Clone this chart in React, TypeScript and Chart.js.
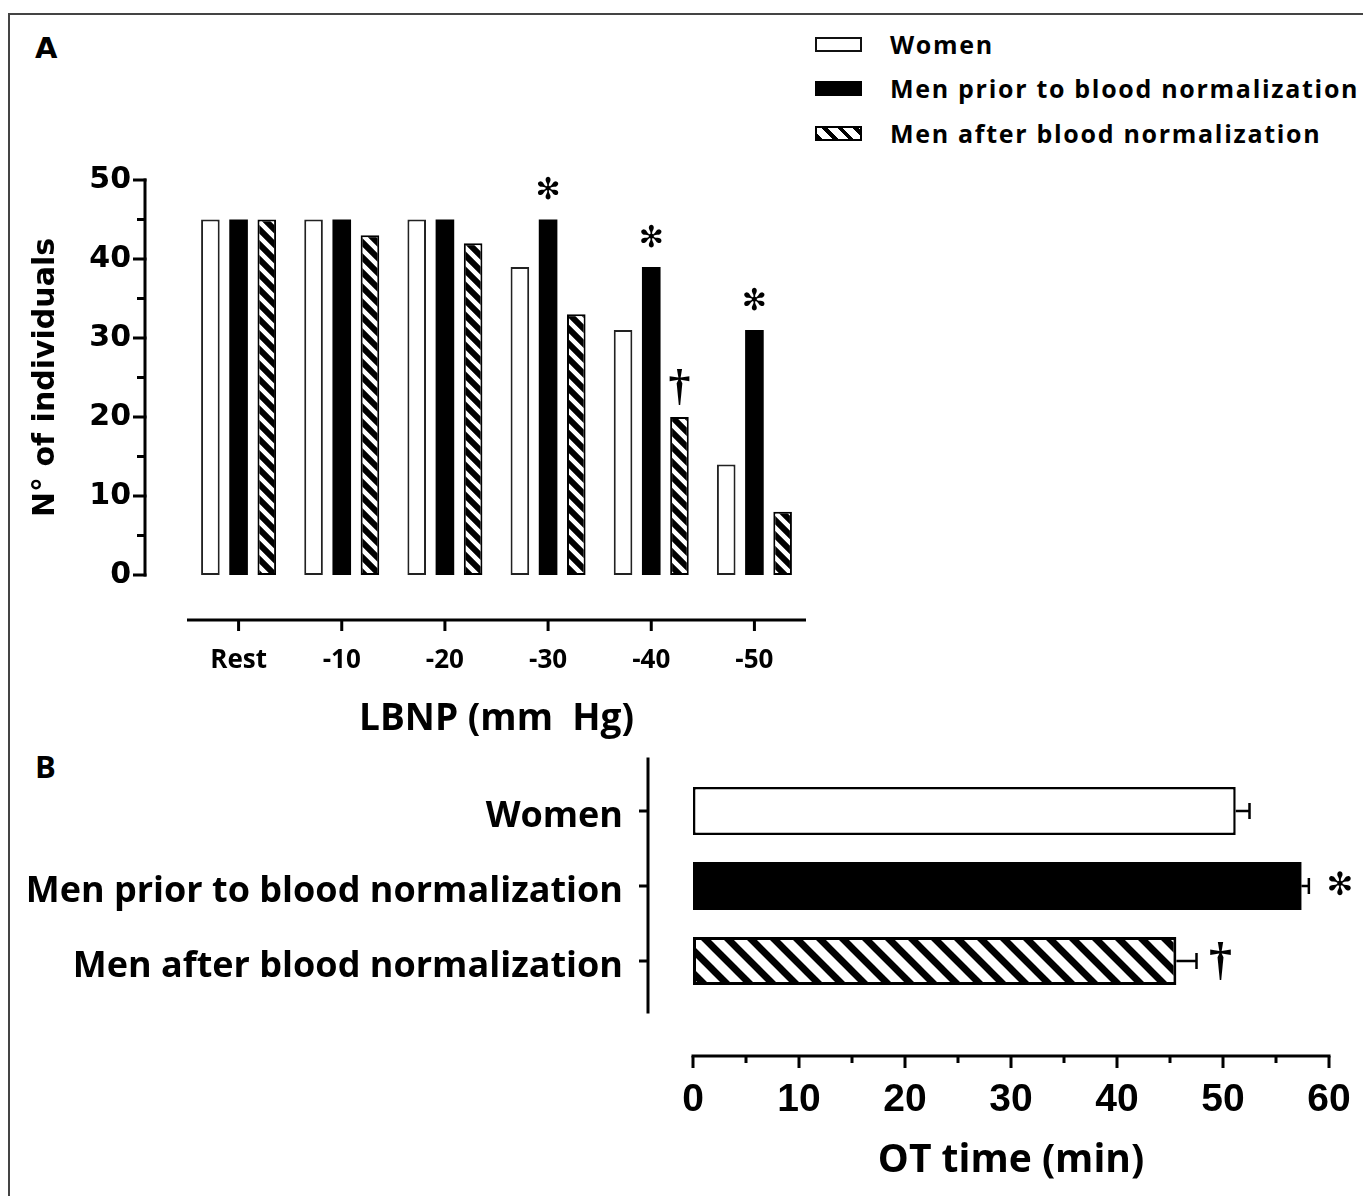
import React, { useEffect, useRef } from "react";
import { Chart, registerables } from "chart.js";

Chart.register(...registerables);

// ---------- Panel A data ----------
const lbnpCategories = ["Rest", "-10", "-20", "-30", "-40", "-50"];
const womenCounts = [45, 45, 45, 39, 31, 14];
const menPriorCounts = [45, 45, 45, 45, 39, 31];
const menAfterCounts = [45, 43, 42, 33, 20, 8];
const menPriorMarks = ["", "", "", "*", "*", "*"];
const menAfterMarks = ["", "", "", "", "†", ""];
const countTicks = [0, 10, 20, 30, 40, 50];
const countMinorTicks = [5, 15, 25, 35, 45];

// ---------- Panel B data ----------
const groupLabels = [
  "Women",
  "Men prior to blood normalization",
  "Men after blood normalization",
];
const otTimeMeans = [51.2, 57.4, 45.6];
const otTimeErrors = [1.3, 0.7, 1.9];
const otTimeMarks = ["", "*", "†"];
const timeTicks = [0, 10, 20, 30, 40, 50, 60];
const timeMinorTicks = [5, 15, 25, 35, 45, 55];

const GILL = "'Open Sans', Lato, sans-serif";
const HELV = "'DejaVu Sans', sans-serif";
const ARIAL = "'Liberation Sans', Arial, sans-serif";

function makeHatch(ctx: CanvasRenderingContext2D, period: number, lineW: number) {
  const c = document.createElement("canvas");
  c.width = period;
  c.height = period;
  const g = c.getContext("2d")!;
  g.fillStyle = "#fff";
  g.fillRect(0, 0, period, period);
  g.strokeStyle = "#000";
  g.lineWidth = lineW;
  g.beginPath();
  for (let k = -2; k <= 2; k++) {
    g.moveTo(k * period - period, -period);
    g.lineTo(k * period + 2 * period, 2 * period);
  }
  g.stroke();
  return ctx.createPattern(c, "repeat")!;
}

function drawMark(ctx: CanvasRenderingContext2D, mark: string, x: number, y: number, big: boolean) {
  ctx.save();
  ctx.fillStyle = "#000";
  ctx.textAlign = "center";
  ctx.textBaseline = "middle";
  if (mark === "*") {
    ctx.font = `${big ? 32 : 30}px 'DejaVu Sans'`;
    ctx.fillText("✻", x, y);
  } else if (mark === "†") {
    ctx.font = `bold ${big ? 46 : 44}px 'Liberation Serif'`;
    ctx.fillText("†", x, y);
  }
  ctx.restore();
}

function fixSize(dim: "width" | "height", value: number) {
  return (s: any) => {
    s[dim] = value;
    s.paddingTop = 0;
    s.paddingBottom = 0;
    s.paddingLeft = 0;
    s.paddingRight = 0;
  };
}

const panelAPlugin = {
  id: "panelAAxes",
  afterDraw(chart: any) {
    const { ctx, chartArea } = chart;
    const xs = chart.scales.x;
    const ys = chart.scales.y;
    ctx.save();
    ctx.strokeStyle = "#000";
    ctx.lineWidth = 3;
    // y axis line (offset left)
    const axX = chartArea.left - 42;
    ctx.beginPath();
    ctx.moveTo(axX, ys.getPixelForValue(countTicks[0]) + 1.5);
    ctx.lineTo(axX, ys.getPixelForValue(countTicks[countTicks.length - 1]) - 1.5);
    ctx.stroke();
    countTicks.forEach((v) => {
      const py = ys.getPixelForValue(v);
      ctx.beginPath();
      ctx.moveTo(axX - 12, py);
      ctx.lineTo(axX + 1.5, py);
      ctx.stroke();
    });
    countMinorTicks.forEach((v) => {
      const py = ys.getPixelForValue(v);
      ctx.beginPath();
      ctx.moveTo(axX - 8, py);
      ctx.lineTo(axX, py);
      ctx.stroke();
    });
    // x axis line (offset down)
    const axY = chartArea.bottom + 45;
    ctx.beginPath();
    ctx.moveTo(chartArea.left, axY);
    ctx.lineTo(chartArea.right, axY);
    ctx.stroke();
    lbnpCategories.forEach((_, i) => {
      const px = xs.getPixelForValue(i);
      ctx.beginPath();
      ctx.moveTo(px, axY);
      ctx.lineTo(px, axY + 11);
      ctx.stroke();
    });
    ctx.restore();
    // significance marks
    const metaPrior = chart.getDatasetMeta(1);
    menPriorMarks.forEach((m, i) => {
      if (!m) return;
      const el = metaPrior.data[i];
      drawMark(ctx, m, el.x, el.y - 28, false);
    });
    const metaAfter = chart.getDatasetMeta(2);
    menAfterMarks.forEach((m, i) => {
      if (!m) return;
      const el = metaAfter.data[i];
      drawMark(ctx, m, el.x, el.y - 28, false);
    });
  },
};

const panelBPlugin = {
  id: "panelBAxes",
  afterDraw(chart: any) {
    const { ctx, chartArea } = chart;
    const xs = chart.scales.x;
    const ys = chart.scales.y;
    const meta = chart.getDatasetMeta(0);
    ctx.save();
    ctx.strokeStyle = "#000";
    // error bars
    ctx.lineWidth = 2.5;
    otTimeMeans.forEach((v, i) => {
      const el = meta.data[i];
      const x0 = xs.getPixelForValue(v);
      const x1 = xs.getPixelForValue(v + otTimeErrors[i]);
      ctx.beginPath();
      ctx.moveTo(x0, el.y);
      ctx.lineTo(x1, el.y);
      ctx.moveTo(x1, el.y - 8);
      ctx.lineTo(x1, el.y + 8);
      ctx.stroke();
      if (otTimeMarks[i]) {
        drawMark(ctx, otTimeMarks[i], x1 + (otTimeMarks[i] === "*" ? 31 : 24), el.y + 1, true);
      }
    });
    // y axis
    ctx.lineWidth = 3;
    const axX = chartArea.left - 45;
    ctx.beginPath();
    ctx.moveTo(axX, chartArea.top - 16);
    ctx.lineTo(axX, chartArea.bottom + 15);
    ctx.stroke();
    groupLabels.forEach((_, i) => {
      const py = ys.getPixelForValue(i);
      ctx.beginPath();
      ctx.moveTo(axX - 9, py);
      ctx.lineTo(axX, py);
      ctx.stroke();
    });
    // x axis
    const axY = chartArea.bottom + 57.5;
    ctx.beginPath();
    ctx.moveTo(xs.getPixelForValue(timeTicks[0]) - 1.5, axY);
    ctx.lineTo(xs.getPixelForValue(timeTicks[timeTicks.length - 1]) + 1.5, axY);
    ctx.stroke();
    timeTicks.forEach((v) => {
      const px = xs.getPixelForValue(v);
      ctx.beginPath();
      ctx.moveTo(px, axY);
      ctx.lineTo(px, axY + 12);
      ctx.stroke();
    });
    timeMinorTicks.forEach((v) => {
      const px = xs.getPixelForValue(v);
      ctx.beginPath();
      ctx.moveTo(px, axY);
      ctx.lineTo(px, axY + 7);
      ctx.stroke();
    });
    ctx.restore();
  },
};

export default function App() {
  const refA = useRef<HTMLCanvasElement>(null);
  const refB = useRef<HTMLCanvasElement>(null);

  useEffect(() => {
    const canA = refA.current!;
    const canB = refB.current!;
    const hatchA = makeHatch(canA.getContext("2d")!, 15, 6);
    const hatchB = makeHatch(canB.getContext("2d")!, 23, 7);

    const barCommon = { categoryPercentage: 0.82, barPercentage: 0.66, borderSkipped: false };

    const chartA = new Chart(canA, {
      type: "bar",
      data: {
        labels: lbnpCategories,
        datasets: [
          { label: groupLabels[0], data: womenCounts, backgroundColor: "#fff", borderColor: "#222", borderWidth: 2, ...barCommon },
          { label: groupLabels[1], data: menPriorCounts, backgroundColor: "#000", borderWidth: 0, ...barCommon },
          { label: groupLabels[2], data: menAfterCounts, backgroundColor: hatchA, borderColor: "#000", borderWidth: 2, ...barCommon },
        ],
      } as any,
      options: {
        responsive: false,
        animation: false,
        events: [],
        layout: { padding: { left: 0, right: 24, top: 30, bottom: 0 } },
        plugins: { legend: { display: false }, tooltip: { enabled: false } },
        scales: {
          x: {
            grid: { display: false },
            border: { display: false },
            ticks: {
              color: "#000",
              font: { family: GILL, weight: "bold", size: 26 },
              padding: 62,
              maxRotation: 0,
              autoSkip: false,
            },
            title: {
              display: true,
              text: "LBNP (mm  Hg)",
              color: "#000",
              font: { family: GILL, weight: "bold", size: 37 },
              padding: { top: 0, bottom: 18 },
            },
            afterFit: fixSize("height", 185),
          },
          y: {
            min: 0,
            max: 50,
            grid: { display: false },
            border: { display: false },
            ticks: {
              stepSize: 10,
              color: "#000",
              font: { family: HELV, weight: "bold", size: 30 },
              padding: 48,
            },
            title: {
              display: true,
              text: "N° of individuals",
              color: "#000",
              font: { family: HELV, weight: "bold", size: 30 },
              padding: { top: 28, bottom: 0 },
            },
            afterFit: fixSize("width", 187),
          },
        },
      } as any,
      plugins: [panelAPlugin],
    });

    const chartB = new Chart(canB, {
      type: "bar",
      data: {
        labels: groupLabels,
        datasets: [
          {
            label: "OT time",
            data: otTimeMeans,
            backgroundColor: ["#fff", "#000", hatchB],
            borderColor: "#000",
            borderWidth: [2.5, 0, 3],
            borderSkipped: false,
            categoryPercentage: 1,
            barPercentage: 0.64,
          },
        ],
      } as any,
      options: {
        indexAxis: "y",
        responsive: false,
        animation: false,
        events: [],
        layout: { padding: { left: 0, right: 34, top: 33.5, bottom: 0 } },
        plugins: { legend: { display: false }, tooltip: { enabled: false } },
        scales: {
          x: {
            min: 0,
            max: 60,
            grid: { display: false },
            border: { display: false },
            ticks: {
              stepSize: 10,
              color: "#000",
              font: { family: ARIAL, weight: "bold", size: 39 },
              padding: 70,
              maxRotation: 0,
            },
            title: {
              display: true,
              text: "OT time (min)",
              color: "#000",
              font: { family: GILL, weight: "bold", size: 39 },
              padding: { top: 0, bottom: 12 },
            },
            afterFit: fixSize("height", 197.5),
          },
          y: {
            grid: { display: false },
            border: { display: false },
            ticks: {
              color: "#000",
              font: { family: GILL, weight: "bold", size: 36 },
              padding: 62,
              labelOffset: 6,
              autoSkip: false,
            },
            afterFit: fixSize("width", 693),
          },
        },
      } as any,
      plugins: [panelBPlugin],
    });

    return () => {
      chartA.destroy();
      chartB.destroy();
    };
  }, []);

  const legendSwatches = [
    { background: "#fff", border: "2px solid #111" },
    { background: "#000", border: "2px solid #000" },
    {
      background: "repeating-linear-gradient(45deg, #000 0 4px, #fff 4px 11px)",
      border: "2px solid #000",
    },
  ];
  const legendCenters = [44, 88, 133];

  return (
    <div
      style={{
        position: "absolute",
        left: 0,
        top: 0,
        width: 1363,
        height: 1196,
        overflow: "hidden",
        background: "#fff",
      }}
    >
      <div
        style={{
          position: "absolute",
          left: 8,
          top: 13,
          right: 0,
          bottom: 0,
          borderTop: "2px solid #444",
          borderLeft: "2px solid #444",
        }}
      />
      <div
        style={{
          position: "absolute",
          left: 35,
          top: 33.6,
          font: `bold 29px ${HELV}`,
          lineHeight: "29px",
          color: "#000",
        }}
      >
        A
      </div>
      <div
        style={{
          position: "absolute",
          left: 35,
          top: 751,
          font: `bold 31px ${GILL}`,
          lineHeight: "31px",
          color: "#000",
        }}
      >
        B
      </div>
      {groupLabels.map((label, i) => (
        <div
          key={label}
          style={{
            position: "absolute",
            left: 815,
            top: legendCenters[i] - 15,
            height: 30,
            display: "flex",
            alignItems: "center",
            whiteSpace: "nowrap",
          }}
        >
          <div
            style={{
              width: 47,
              height: 15,
              boxSizing: "border-box",
              ...legendSwatches[i],
            }}
          />
          <div
            style={{
              marginLeft: 28,
              font: `bold 25px ${GILL}`,
              letterSpacing: "1.7px",
              color: "#000",
            }}
          >
            {label}
          </div>
        </div>
      ))}
      <canvas
        ref={refA}
        width={830}
        height={610}
        style={{ position: "absolute", left: 0, top: 150, width: 830, height: 610 }}
      />
      <canvas
        ref={refB}
        width={1363}
        height={456}
        style={{ position: "absolute", left: 0, top: 740, width: 1363, height: 456 }}
      />
    </div>
  );
}
